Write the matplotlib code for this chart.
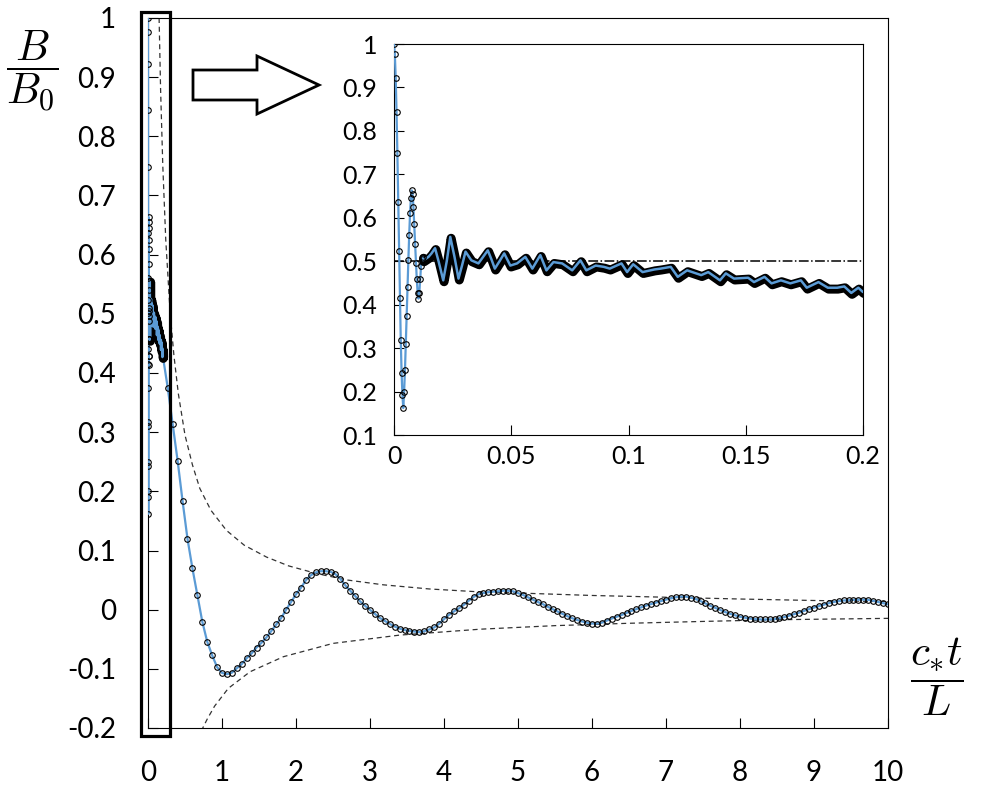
import numpy as np
import matplotlib
matplotlib.use('Agg')
import matplotlib.pyplot as plt
import matplotlib.patheffects as pe
from matplotlib.patches import Rectangle, Polygon

# early oscillation (individual circles visible), sampled every 0.00036
b_early = [1.000, 0.976, 0.922, 0.844, 0.748, 0.637, 0.523, 0.415, 0.318, 0.243,
           0.191, 0.162, 0.200, 0.250, 0.310, 0.375, 0.440, 0.502, 0.560, 0.610,
           0.645, 0.663, 0.655, 0.625, 0.585, 0.540, 0.497, 0.458, 0.428, 0.414,
           0.428, 0.458, 0.488, 0.505, 0.510]
t_early = np.arange(len(b_early)) * 0.00036

# dense part around B/B0 = 0.5
t_band = [0.0125, 0.0147, 0.016, 0.0175, 0.019, 0.021, 0.0225, 0.024, 0.0258, 0.0275,
          0.029, 0.0305, 0.033, 0.036, 0.038, 0.040, 0.0415, 0.043, 0.045, 0.047,
          0.0496, 0.0525, 0.056, 0.059, 0.0624, 0.065, 0.068, 0.0717, 0.076, 0.0795,
          0.082, 0.086, 0.0895, 0.092, 0.097, 0.0994, 0.102, 0.106, 0.111, 0.1137,
          0.118, 0.121, 0.125, 0.131, 0.134, 0.139, 0.1415, 0.145, 0.151, 0.1535,
          0.158, 0.161, 0.165, 0.169, 0.1735, 0.176, 0.181, 0.185, 0.189, 0.192,
          0.195, 0.198, 0.2]
b_band = [0.502, 0.51, 0.518, 0.53, 0.50, 0.456, 0.50, 0.556, 0.51, 0.46,
          0.49, 0.522, 0.502, 0.495, 0.51, 0.525, 0.505, 0.483, 0.50, 0.518,
          0.49, 0.495, 0.51, 0.483, 0.514, 0.479, 0.498, 0.495, 0.479, 0.502,
          0.479, 0.49, 0.487, 0.483, 0.495, 0.475, 0.493, 0.475, 0.481, 0.483,
          0.487, 0.464, 0.479, 0.468, 0.475, 0.456, 0.472, 0.46, 0.462, 0.452,
          0.464, 0.449, 0.456, 0.449, 0.456, 0.439, 0.452, 0.439, 0.439, 0.442,
          0.427, 0.439, 0.429]

# long-time response, sampled every 1/15
t_main = np.arange(4, 151) / 15
b_main = [0.375, 0.314, 0.252, 0.184, 0.120, 0.070, 0.025, -0.020, -0.054, -0.077, -0.097,
          -0.107, -0.109, -0.1065, -0.099, -0.092, -0.082, -0.074, -0.064, -0.056, -0.047,
          -0.036, -0.025, -0.014, 0.000, 0.013, 0.026, 0.037, 0.0497, 0.058, 0.063,
          0.065, 0.065, 0.064, 0.060, 0.052, 0.041, 0.032, 0.023, 0.014, 0.0065,
          -0.0003, -0.0073, -0.014, -0.019, -0.024, -0.0285, -0.032, -0.0345, -0.036, -0.037,
          -0.038, -0.0365, -0.0335, -0.030, -0.024, -0.016, -0.0088, -0.003, 0.002, 0.008,
          0.015, 0.0215, 0.026, 0.028, 0.0295, 0.0305, 0.031, 0.032, 0.032, 0.031,
          0.028, 0.025, 0.021, 0.017, 0.013, 0.0095, 0.005, 0.001, -0.003, -0.007,
          -0.011, -0.0145, -0.0175, -0.020, -0.022, -0.0235, -0.0235, -0.022, -0.0185, -0.015,
          -0.012, -0.009, -0.0055, -0.002, 0.001, 0.004, 0.007, 0.0095, 0.012, 0.0145,
          0.017, 0.019, 0.021, 0.022, 0.022, 0.0205, 0.018, 0.0145, 0.0105, 0.0065,
          0.003, -0.0005, -0.004, -0.007, -0.0095, -0.012, -0.0135, -0.015, -0.016, -0.0165,
          -0.0165, -0.0165, -0.016, -0.0145, -0.0125, -0.010, -0.0075, -0.005, -0.002, 0.001,
          0.0035, 0.006, 0.0085, 0.011, 0.013, 0.0145, 0.0155, 0.016, 0.0165, 0.017,
          0.017, 0.0165, 0.015, 0.013, 0.011, 0.009]

# dashed envelopes
env_up_t = [0.15, 0.17, 0.2, 0.24, 0.3, 0.35, 0.41, 0.5, 0.6, 0.7, 0.85, 1.06, 1.3, 1.6,
            1.9, 2.28, 2.7, 3.18, 3.8, 4.49, 5.16, 6, 7, 8, 9, 10]
env_up_b = [1.0, 0.88, 0.75, 0.625, 0.50, 0.43, 0.365, 0.295, 0.245, 0.205, 0.168, 0.134,
            0.109, 0.089, 0.074, 0.061, 0.05, 0.042, 0.035, 0.030, 0.0275, 0.024, 0.021,
            0.018, 0.0155, 0.0135]
env_lo_t = [0.72, 0.8, 0.9, 1.085, 1.378, 1.83, 2.5, 3.4, 4.49, 5.5, 6.5, 7.46, 8.5, 10]
env_lo_b = [-0.205, -0.185, -0.163, -0.133, -0.105, -0.0795, -0.057, -0.043, -0.033,
            -0.027, -0.023, -0.020, -0.017, -0.0147]

x_ticks = list(range(0, 11))
y_ticks = [-0.2, -0.1, 0, 0.1, 0.2, 0.3, 0.4, 0.5, 0.6, 0.7, 0.8, 0.9, 1.0]
y_labels = ['-0.2', '-0.1', '0', '0.1', '0.2', '0.3', '0.4', '0.5', '0.6', '0.7', '0.8', '0.9', '1']
xin_ticks = [0, 0.05, 0.1, 0.15, 0.2]
xin_labels = ['0', '0.05', '0.1', '0.15', '0.2']
yin_ticks = [0.1, 0.2, 0.3, 0.4, 0.5, 0.6, 0.7, 0.8, 0.9, 1.0]
yin_labels = ['0.1', '0.2', '0.3', '0.4', '0.5', '0.6', '0.7', '0.8', '0.9', '1']

plt.rcParams['font.family'] = ['Lato', 'DejaVu Sans']
plt.rcParams['mathtext.fontset'] = 'cm'

W, H = 981, 789
fig = plt.figure(figsize=(W / 100, H / 100), dpi=100)


def box(l, t, r, b):
    return [l / W, 1 - b / H, (r - l) / W, (b - t) / H]


ax = fig.add_axes(box(148, 18, 888, 728))
ax_in = fig.add_axes(box(394, 44, 863, 435))

blue = '#5B9BD5'
t_all = np.concatenate([t_early, t_band, t_main])
b_all = np.concatenate([b_early, b_band, b_main])
t_thick = np.concatenate([t_early[-1:], t_band])
b_thick = np.concatenate([b_early[-1:], b_band])
stroke = [pe.Stroke(linewidth=6.5, foreground='black', offset=(0.6, -1.0)), pe.Normal()]

ax_in.axhline(0.5, color='black', lw=1.1, ls='-.', zorder=2)
for a in (ax, ax_in):
    a.plot(t_all, b_all, color=blue, lw=1.6, zorder=3, solid_joinstyle='round')
    a.plot(t_thick, b_thick, color=blue, lw=1.8, path_effects=stroke, zorder=4,
           solid_joinstyle='round', solid_capstyle='round')
    a.plot(t_early, b_early, 'o', mfc='none', mec='black', ms=4, mew=0.8, zorder=5)
ax.plot(t_main, b_main, 'o', mfc='none', mec='black', ms=4, mew=0.8, zorder=5)

ax.plot(env_up_t, env_up_b, color='#333333', lw=0.9, dashes=(4, 3), zorder=2)
ax.plot(env_lo_t, env_lo_b, color='#333333', lw=0.9, dashes=(4, 3), zorder=2)

ax.set_xlim(0, 10)
ax.set_ylim(-0.2, 1.0)
ax.set_xticks(x_ticks)
ax.set_xticklabels([str(v) for v in x_ticks])
ax.set_yticks(y_ticks)
ax.set_yticklabels(y_labels)
ax.tick_params(axis='both', direction='in', length=7, width=0.8, labelsize=20)
ax.tick_params(axis='x', pad=23)
ax.tick_params(axis='y', pad=23)

ax_in.set_xlim(0, 0.2)
ax_in.set_ylim(0.1, 1.0)
ax_in.set_xticks(xin_ticks)
ax_in.set_xticklabels(xin_labels)
ax_in.set_yticks(yin_ticks)
ax_in.set_yticklabels(yin_labels)
ax_in.tick_params(axis='both', direction='in', length=7, width=0.8, labelsize=18)
ax_in.tick_params(axis='x', pad=7)
ax_in.tick_params(axis='y', pad=12)

for a in (ax, ax_in):
    for s in a.spines.values():
        s.set_linewidth(0.8)

# box around the early-time region
ax.add_patch(Rectangle((-0.101, -0.213), 0.401, 1.2226, fill=False, ec='black',
                       lw=2.3, clip_on=False, zorder=6))

# hollow arrow pointing to the inset
arrow_px = [(193, 70), (257, 70), (257, 56), (319, 85), (257, 114), (257, 100), (193, 100)]
fig.add_artist(Polygon([(x / W, 1 - y / H) for x, y in arrow_px], closed=True,
                       fc='white', ec='black', lw=2, transform=fig.transFigure))

fig.text(32 / W, 1 - 71 / H, r'$\dfrac{B}{B_0}$', fontsize=31, ha='center', va='center')
fig.text(937 / W, 1 - 677 / H, r'$\dfrac{c_{*}t}{L}$', fontsize=31, ha='center', va='center')

fig.savefig('out.png', dpi=100)
